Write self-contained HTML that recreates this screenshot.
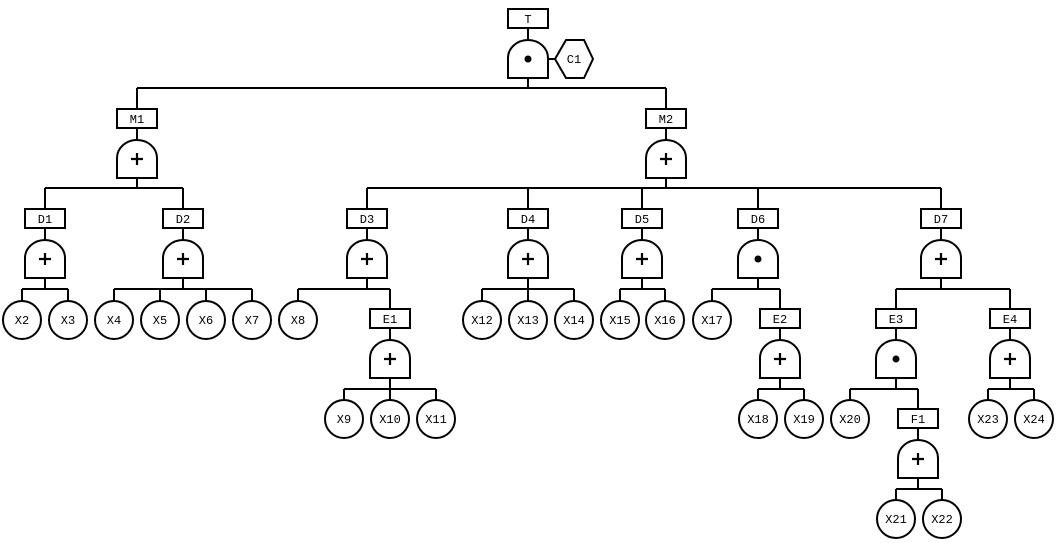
<!DOCTYPE html>
<html><head><meta charset="utf-8"><style>
html,body{margin:0;padding:0;background:#fff;}
svg{display:block;}
text{font-family:"Liberation Mono",monospace;font-size:12px;text-anchor:middle;fill:#000;}
</style></head><body>
<svg width="1059" height="543" viewBox="0 0 1059 543" xmlns="http://www.w3.org/2000/svg">
<defs>
<g id="gp"><path d="M-20 38V18A20 18 0 0 1 20 18V38Z" fill="#fff" stroke="#000" stroke-width="2"/><path d="M-6 19H6M0 13V25" stroke="#000" stroke-width="2.2"/></g>
<g id="ga"><path d="M-20 38V18A20 18 0 0 1 20 18V38Z" fill="#fff" stroke="#000" stroke-width="2"/><circle cx="0" cy="19" r="3.5" fill="#000"/></g>
</defs>
<g stroke="#000" stroke-width="2" fill="none">
<!-- T -->
<path d="M528 28V40M528 78V88M137 88H666M548 59H555"/>
<path d="M137 88V109M666 88V109"/>
<!-- M1 -->
<path d="M137 128V140M137 178V188M45 188H183M45 188V209M183 188V209"/>
<!-- M2 -->
<path d="M666 128V140M666 178V188M367 188H941M367 188V209M528 188V209M642 188V209M758 188V209M941 188V209"/>
<!-- D level box->gate, gate->bus -->
<path d="M45 228V240M45 278V289M22 289H68M22 289V301M68 289V301"/>
<path d="M183 228V240M183 278V289M114 289H252M114 289V301M160 289V301M206 289V301M252 289V301"/>
<path d="M367 228V240M367 278V289M298 289H390M298 289V301M390 289V309"/>
<path d="M528 228V240M528 278V289M482 289H574M482 289V301M528 289V301M574 289V301"/>
<path d="M642 228V240M642 278V289M620 289H665M620 289V301M665 289V301"/>
<path d="M758 228V240M758 278V289M712 289H780M712 289V301M780 289V309"/>
<path d="M941 228V240M941 278V289M896 289H1010M896 289V309M1010 289V309"/>
<!-- E level -->
<path d="M390 328V340M390 378V389M344 389H436M344 389V400M390 389V400M436 389V400"/>
<path d="M780 328V340M780 378V389M758 389H804M758 389V400M804 389V400"/>
<path d="M896 328V340M896 378V389M850 389H918M850 389V400M918 389V409"/>
<path d="M1010 328V340M1010 378V389M988 389H1034M988 389V400M1034 389V400"/>
<!-- F1 -->
<path d="M918 428V440M918 478V489M896 489H942M896 489V500M942 489V500"/>
<!-- boxes -->
<rect x="508" y="9" width="40" height="19"/>
<rect x="117" y="109" width="40" height="19"/>
<rect x="646" y="109" width="40" height="19"/>
<rect x="25" y="209" width="40" height="19"/>
<rect x="163" y="209" width="40" height="19"/>
<rect x="347" y="209" width="40" height="19"/>
<rect x="508" y="209" width="40" height="19"/>
<rect x="622" y="209" width="40" height="19"/>
<rect x="738" y="209" width="40" height="19"/>
<rect x="921" y="209" width="40" height="19"/>
<rect x="370" y="309" width="40" height="19"/>
<rect x="760" y="309" width="40" height="19"/>
<rect x="876" y="309" width="40" height="19"/>
<rect x="990" y="309" width="40" height="19"/>
<rect x="898" y="409" width="40" height="19"/>
<!-- hexagon -->
<path d="M566 40H584L593 59L584 78H566L555 59Z"/>
<!-- circles -->
<circle cx="22" cy="320" r="19"/><circle cx="68" cy="320" r="19"/>
<circle cx="114" cy="320" r="19"/><circle cx="160" cy="320" r="19"/><circle cx="206" cy="320" r="19"/><circle cx="252" cy="320" r="19"/>
<circle cx="298" cy="320" r="19"/>
<circle cx="482" cy="320" r="19"/><circle cx="528" cy="320" r="19"/><circle cx="574" cy="320" r="19"/>
<circle cx="620" cy="320" r="19"/><circle cx="665" cy="320" r="19"/>
<circle cx="712" cy="320" r="19"/>
<circle cx="344" cy="419" r="19"/><circle cx="390" cy="419" r="19"/><circle cx="436" cy="419" r="19"/>
<circle cx="758" cy="419" r="19"/><circle cx="804" cy="419" r="19"/>
<circle cx="850" cy="419" r="19"/>
<circle cx="988" cy="419" r="19"/><circle cx="1034" cy="419" r="19"/>
<circle cx="896" cy="519" r="19"/><circle cx="942" cy="519" r="19"/>
</g>
<!-- gates -->
<use href="#ga" x="528" y="40"/>
<use href="#gp" x="137" y="140"/>
<use href="#gp" x="666" y="140"/>
<use href="#gp" x="45" y="240"/>
<use href="#gp" x="183" y="240"/>
<use href="#gp" x="367" y="240"/>
<use href="#gp" x="528" y="240"/>
<use href="#gp" x="642" y="240"/>
<use href="#ga" x="758" y="240"/>
<use href="#gp" x="941" y="240"/>
<use href="#gp" x="390" y="340"/>
<use href="#gp" x="780" y="340"/>
<use href="#ga" x="896" y="340"/>
<use href="#gp" x="1010" y="340"/>
<use href="#gp" x="918" y="440"/>
<!-- labels -->
<text x="528" y="23">T</text>
<text x="574" y="63">C1</text>
<text x="137" y="123">M1</text>
<text x="666" y="123">M2</text>
<text x="45" y="223">D1</text>
<text x="183" y="223">D2</text>
<text x="367" y="223">D3</text>
<text x="528" y="223">D4</text>
<text x="642" y="223">D5</text>
<text x="758" y="223">D6</text>
<text x="941" y="223">D7</text>
<text x="390" y="323">E1</text>
<text x="780" y="323">E2</text>
<text x="896" y="323">E3</text>
<text x="1010" y="323">E4</text>
<text x="918" y="423">F1</text>
<text x="22" y="324">X2</text><text x="68" y="324">X3</text>
<text x="114" y="324">X4</text><text x="160" y="324">X5</text><text x="206" y="324">X6</text><text x="252" y="324">X7</text>
<text x="298" y="324">X8</text>
<text x="482" y="324">X12</text><text x="528" y="324">X13</text><text x="574" y="324">X14</text>
<text x="620" y="324">X15</text><text x="665" y="324">X16</text>
<text x="712" y="324">X17</text>
<text x="344" y="423">X9</text><text x="390" y="423">X10</text><text x="436" y="423">X11</text>
<text x="758" y="423">X18</text><text x="804" y="423">X19</text>
<text x="850" y="423">X20</text>
<text x="988" y="423">X23</text><text x="1034" y="423">X24</text>
<text x="896" y="523">X21</text><text x="942" y="523">X22</text>
</svg>
</body></html>
